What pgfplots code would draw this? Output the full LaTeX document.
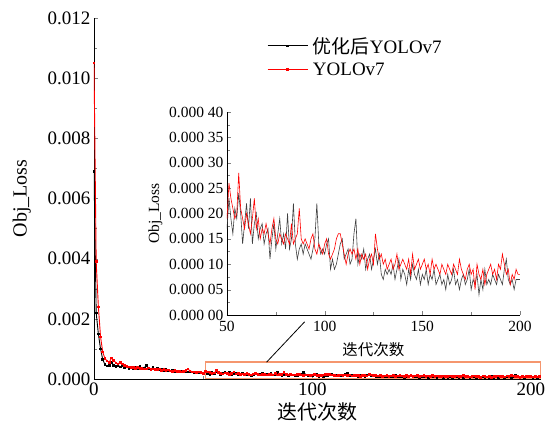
\documentclass[border=0pt]{standalone}
\usepackage{pgfplots}
\usepackage{pgfplotstable}
\pgfplotsset{compat=1.18}
\usepackage{fontspec}
\setmainfont{Liberation Serif}
\newfontfamily\cjk{Noto Sans CJK SC}
\definecolor{boxorange}{RGB}{245,150,110}

% epoch, optimised YOLOv7 (b), YOLOv7 (r)
\pgfplotstableread[row sep=\\]{
x b r \\
0 6.9e-3 1.05e-2 \\ 1 2.2e-3 3.9e-3 \\ 2 1.5e-3 2.4e-3 \\ 3 1.0e-3 1.4e-3 \\
4 6.5e-4 9.0e-4 \\ 5 4.8e-4 6.8e-4 \\ 6 4.3e-4 6.0e-4 \\ 7 4.5e-4 5.6e-4 \\
8 5.5e-4 7.0e-4 \\ 9 4.6e-4 6.2e-4 \\ 10 4.2e-4 5.4e-4 \\ 11 4.6e-4 5.0e-4 \\
12 4.0e-4 5.6e-4 \\ 13 4.4e-4 5.0e-4 \\ 14 3.8e-4 4.6e-4 \\ 15 4.0e-4 4.2e-4 \\
16 3.6e-4 4.0e-4 \\ 17 3.8e-4 3.9e-4 \\ 18 3.4e-4 3.8e-4 \\ 19 3.9e-4 3.6e-4 \\
20 3.5e-4 3.8e-4 \\ 21 4.1e-4 3.5e-4 \\ 22 3.4e-4 3.6e-4 \\ 23 3.7e-4 3.3e-4 \\
24 4.6e-4 3.4e-4 \\ 25 3.5e-4 3.7e-4 \\ 26 3.3e-4 3.2e-4 \\ 27 3.8e-4 3.4e-4 \\
28 3.2e-4 3.1e-4 \\ 29 3.6e-4 3.2e-4 \\ 30 3.0e-4 3.3e-4 \\ 31 3.3e-4 2.9e-4 \\
32 2.9e-4 3.1e-4 \\ 33 3.1e-4 2.8e-4 \\ 34 2.8e-4 3.0e-4 \\ 35 2.7e-4 2.7e-4 \\
36 2.9e-4 2.6e-4 \\ 37 2.6e-4 2.8e-4 \\ 38 2.6e-4 2.5e-4 \\ 39 2.5e-4 2.6e-4 \\
40 2.5e-4 2.4e-4 \\ 41 2.4e-4 2.5e-4 \\ 42 2.5e-4 2.8e-4 \\ 43 2.4e-4 3.3e-4 \\
44 2.3e-4 2.7e-4 \\ 45 2.3e-4 2.4e-4 \\ 46 2.2e-4 2.3e-4 \\ 47 2.3e-4 2.2e-4 \\
48 2.2e-4 2.3e-4 \\ 49 2.1e-4 2.2e-4 \\
50 17e-5 19e-5 \\ 51 23e-5 26e-5 \\ 52 19e-5 23e-5 \\ 53 16e-5 21e-5 \\
54 21e-5 19e-5 \\ 55 19e-5 20e-5 \\ 56 24e-5 28e-5 \\ 57 20e-5 21e-5 \\
58 14e-5 19e-5 \\ 59 18e-5 17e-5 \\ 60 22e-5 20e-5 \\ 61 17e-5 18e-5 \\
62 23e-5 16e-5 \\ 63 14e-5 19e-5 \\ 64 18e-5 23e-5 \\ 65 20e-5 17e-5 \\
66 15e-5 19e-5 \\ 67 17e-5 15e-5 \\ 68 18e-5 17e-5 \\ 69 14e-5 16e-5 \\
70 16e-5 18e-5 \\ 71 17e-5 16e-5 \\ 72 11e-5 14e-5 \\ 73 15e-5 17e-5 \\
74 18e-5 19e-5 \\ 75 13e-5 15e-5 \\ 76 16e-5 14e-5 \\ 77 19e-5 16e-5 \\
78 14e-5 15e-5 \\ 79 16e-5 14e-5 \\ 80 13e-5 16e-5 \\ 81 20e-5 15e-5 \\
82 13e-5 14e-5 \\ 83 15e-5 18e-5 \\ 84 22e-5 14e-5 \\ 85 14e-5 15e-5 \\
86 11e-5 16e-5 \\ 87 13e-5 21e-5 \\ 88 14e-5 15e-5 \\ 89 12e-5 14e-5 \\
90 14e-5 15e-5 \\ 91 13e-5 14e-5 \\ 92 12e-5 13e-5 \\ 93 11e-5 15e-5 \\
94 13e-5 16e-5 \\ 95 15e-5 13e-5 \\ 96 22e-5 12e-5 \\ 97 14e-5 14e-5 \\
98 12e-5 13e-5 \\ 99 13e-5 12e-5 \\ 100 12e-5 14e-5 \\ 101 14e-5 15e-5 \\
102 15e-5 12e-5 \\ 103 9e-5 11e-5 \\ 104 11e-5 12e-5 \\ 105 9e-5 13e-5 \\
106 10e-5 15e-5 \\ 107 12e-5 16e-5 \\ 108 14e-5 16e-5 \\ 109 15e-5 14e-5 \\
110 11e-5 12e-5 \\ 111 12e-5 10e-5 \\ 112 13e-5 12e-5 \\ 113 10e-5 13e-5 \\
114 11e-5 12e-5 \\ 115 16e-5 13e-5 \\ 116 19e-5 11e-5 \\ 117 10e-5 13e-5 \\
118 12e-5 10e-5 \\ 119 11e-5 12e-5 \\ 120 13e-5 11e-5 \\ 121 9e-5 12e-5 \\
122 11e-5 9e-5 \\ 123 12e-5 11e-5 \\ 124 9e-5 12e-5 \\ 125 11e-5 10e-5 \\
126 13e-5 16e-5 \\ 127 10e-5 13e-5 \\ 128 12e-5 11e-5 \\ 129 8e-5 12e-5 \\
130 7e-5 10e-5 \\ 131 9e-5 11e-5 \\ 132 8e-5 9e-5 \\ 133 9e-5 10e-5 \\
134 8e-5 11e-5 \\ 135 10e-5 9e-5 \\ 136 7e-5 10e-5 \\ 137 9e-5 12e-5 \\
138 11e-5 9e-5 \\ 139 7e-5 10e-5 \\ 140 9e-5 11e-5 \\ 141 8e-5 10e-5 \\
142 6e-5 9e-5 \\ 143 9e-5 11e-5 \\ 144 7e-5 8e-5 \\ 145 10e-5 12e-5 \\
146 8e-5 9e-5 \\ 147 7e-5 10e-5 \\ 148 9e-5 11e-5 \\ 149 6e-5 9e-5 \\
150 8e-5 10e-5 \\ 151 7e-5 11e-5 \\ 152 9e-5 9e-5 \\ 153 6e-5 10e-5 \\
154 8e-5 8e-5 \\ 155 7e-5 11e-5 \\ 156 9e-5 9e-5 \\ 157 6e-5 10e-5 \\
158 7e-5 9e-5 \\ 159 8e-5 8e-5 \\ 160 6e-5 10e-5 \\ 161 7e-5 9e-5 \\
162 5e-5 8e-5 \\ 163 8e-5 10e-5 \\ 164 6e-5 9e-5 \\ 165 7e-5 8e-5 \\
166 9e-5 10e-5 \\ 167 6e-5 9e-5 \\ 168 7e-5 8e-5 \\ 169 5e-5 11e-5 \\
170 7e-5 9e-5 \\ 171 8e-5 8e-5 \\ 172 6e-5 7e-5 \\ 173 7e-5 9e-5 \\
174 9e-5 10e-5 \\ 175 5e-5 8e-5 \\ 176 7e-5 9e-5 \\ 177 6e-5 5e-5 \\
178 8e-5 10e-5 \\ 179 4e-5 8e-5 \\ 180 7e-5 7e-5 \\ 181 5e-5 9e-5 \\
182 9e-5 6e-5 \\ 183 6e-5 8e-5 \\ 184 7e-5 9e-5 \\ 185 6e-5 10e-5 \\
186 8e-5 8e-5 \\ 187 7e-5 9e-5 \\ 188 6e-5 7e-5 \\ 189 8e-5 10e-5 \\
190 7e-5 9e-5 \\ 191 6e-5 12e-5 \\ 192 9e-5 10e-5 \\ 193 11e-5 8e-5 \\
194 7e-5 9e-5 \\ 195 6e-5 6e-5 \\ 196 7e-5 8e-5 \\ 197 5e-5 7e-5 \\
198 7e-5 9e-5 \\ 199 7e-5 8e-5 \\ 200 7e-5 8e-5 \\ 201 6e-5 7e-5 \\
202 7e-5 8e-5 \\ 203 6e-5 7e-5 \\ 204 7e-5 8e-5 \\
}\losstable

\begin{document}
\begin{tikzpicture}
\path[use as bounding box] (-94pt,-55pt) rectangle (453pt,379pt);
\begin{axis}[
    at={(0pt,0pt)}, anchor=south west,
    scale only axis, width=447pt, height=361pt,
    xmin=0, xmax=204.6, ymin=0, ymax=0.012,
    axis x line*=bottom, axis y line*=left,
    tick align=inside,
    xtick={0,100,200}, minor x tick num=1,
    ytick={0,0.002,0.004,0.006,0.008,0.010,0.012}, minor y tick num=1,
    scaled y ticks=false,
    yticklabel style={/pgf/number format/.cd, fixed, fixed zerofill, precision=3},
    /pgf/number format/assume math mode=true,
    tick label style={font=\fontsize{19}{22}\selectfont},
    label style={font=\fontsize{20}{24}\selectfont},
    xlabel={\cjk 迭代次数}, ylabel={Obj\_Loss},
    ylabel style={yshift=10pt},
    legend style={draw=none, fill=none, at={(0.38,0.892)}, anchor=west,
        font=\fontsize{19}{23}\selectfont, row sep=4pt,
        nodes={inner xsep=5pt}},
    legend cell align=left,
    legend image code/.code={\draw[mark repeat=2, mark phase=2]
        plot coordinates {(0pt,0pt) (20pt,0pt) (40pt,0pt)};},
]
\addplot[black, line width=0.9pt, mark=square*, mark size=0.8pt] table[x=x, y=b] {\losstable};
\addlegendentry{{\cjk 优化后}YOLOv7}
\addplot[red, line width=0.9pt, mark=square*, mark size=0.8pt] table[x=x, y=r] {\losstable};
\addlegendentry{YOLOv7}
\draw[boxorange, line width=1.5pt] (axis cs:51,0) rectangle (axis cs:204.3,0.00056);
\draw[black, line width=0.8pt] (axis cs:79,0.00056) -- (axis cs:96.4,0.0019);
\end{axis}

\begin{axis}[
    at={(133pt,64pt)}, anchor=south west,
    scale only axis, width=293pt, height=203pt,
    xmin=50, xmax=200, ymin=0, ymax=0.0004,
    axis x line*=bottom, axis y line*=left,
    tick align=inside,
    xtick={50,100,150,200}, minor x tick num=1,
    ytick={0,0.00005,0.0001,0.00015,0.0002,0.00025,0.0003,0.00035,0.0004},
    yticklabels={0.000 00,0.000 05,0.000 10,0.000 15,0.000 20,0.000 25,0.000 30,0.000 35,0.000 40},
    minor y tick num=1,
    scaled y ticks=false,
    /pgf/number format/assume math mode=true,
    tick label style={font=\fontsize{15.5}{18}\selectfont},
    xticklabel style={yshift=-3pt},
    label style={font=\fontsize{15.5}{18}\selectfont},
    xlabel={\cjk 迭代次数}, ylabel={Obj\_Loss},
    xlabel style={yshift=-4pt},
]
\addplot[black!75, line width=0.6pt, restrict x to domain=50:200] table[x=x, y=b] {\losstable};
\addplot[red, line width=0.6pt, restrict x to domain=50:200] table[x=x, y=r] {\losstable};
\end{axis}
\end{tikzpicture}
\end{document}
